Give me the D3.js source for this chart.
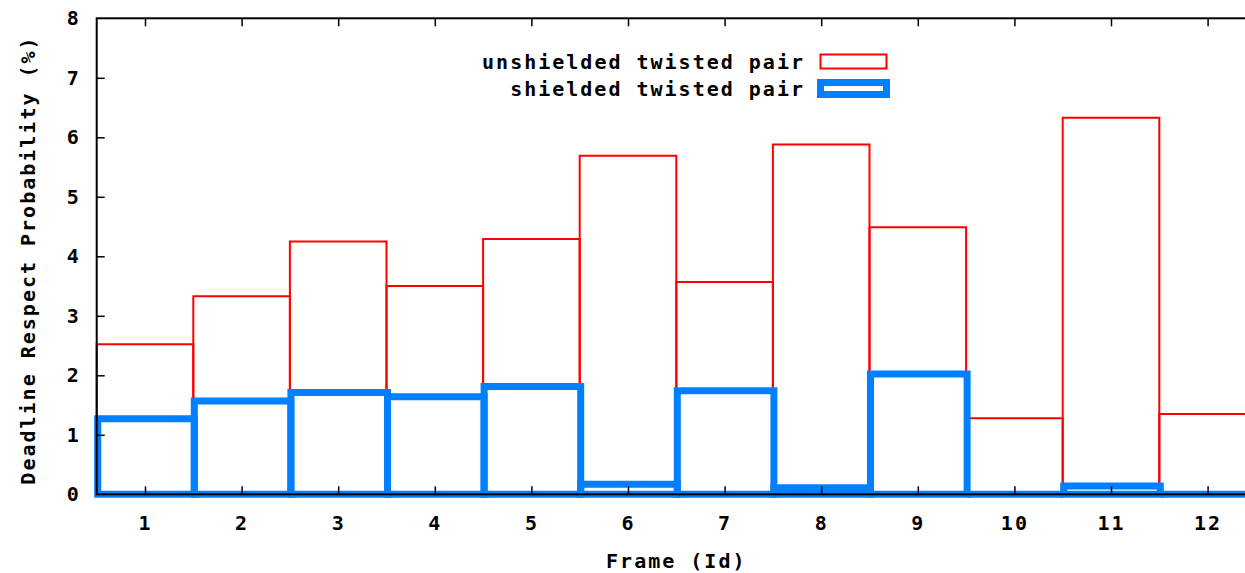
<!DOCTYPE html>
<html><head><meta charset="utf-8">
<script src="https://cdn.jsdelivr.net/npm/d3@7"></script>
<style>
body{margin:0;background:#fff;}
svg{display:block;}
text{font-family:"DejaVu Sans Mono","Liberation Mono",monospace;font-weight:bold;font-size:20px;letter-spacing:2px;fill:#000;}
</style></head>
<body><svg id="c" width="1245" height="573"></svg>
<script>
const frames = [1,2,3,4,5,6,7,8,9,10,11,12];
const unshielded = [2.52,3.33,4.25,3.50,4.29,5.69,3.57,5.88,4.49,1.28,6.33,1.35];
const shielded = [1.27,1.57,1.71,1.64,1.81,0.17,1.74,0.11,2.02,0,0.14,0];
const yTicks = [0,1,2,3,4,5,6,7,8];
const seriesNames = ["unshielded twisted pair","shielded twisted pair"];
const xLabel = "Frame (Id)";
const yLabel = "Deadline Respect Probability (%)";

const svg = d3.select("#c");
const L=96.7, R=1255.9, T=18.3, B=494.3;
const x = d3.scaleLinear().domain([0.5,12.5]).range([L,R]);
const y = d3.scaleLinear().domain([0,8]).range([B,T]);
const red="#ff0000", blue="#0080ff";

function boxPath(d,v,dx){
  const x0=x(d-0.5)+dx, x1=x(d+0.5)+dx, y0=y(0), y1=y(v);
  return `M${x0},${y0}V${y1}H${x1}V${y0}Z`;
}

const gRed = svg.append("g");
gRed.selectAll("path").data(frames).enter().append("path")
  .attr("d",(d,i)=>boxPath(d,unshielded[i],0))
  .attr("fill","none").attr("stroke",red).attr("stroke-width",2);

const gBlue = svg.append("g");
gBlue.selectAll("path").data(frames).enter().append("path")
  .attr("d",(d,i)=>boxPath(d,shielded[i],1))
  .attr("fill","none").attr("stroke",blue).attr("stroke-width",7)
  .attr("stroke-linejoin","miter").attr("stroke-linecap","square");

// axes
const ax = svg.append("g").attr("transform",`translate(0,${B})`)
  .call(d3.axisBottom(x).tickValues(frames).tickSize(-8).tickPadding(21.8).tickFormat(d3.format("d")));
const axT = svg.append("g").attr("transform",`translate(0,${T})`)
  .call(d3.axisTop(x).tickValues(frames).tickSize(-8).tickFormat(""));
const ay = svg.append("g").attr("transform",`translate(${L},0)`)
  .call(d3.axisLeft(y).tickValues(yTicks).tickSize(-8).tickPadding(16).tickFormat(d3.format("d")));
[ax,axT,ay].forEach(g=>{
  g.select(".domain").remove();
  g.selectAll(".tick line").attr("stroke","#000").attr("stroke-width",1.5);
  g.selectAll("text").attr("font-family",null).attr("font-size",null).style("fill","#000");
});
ay.selectAll(".tick").filter(d=>d===0||d===8).select("line").remove();

svg.append("rect").attr("x",L).attr("y",T).attr("width",R-L).attr("height",B-T)
  .attr("fill","none").attr("stroke","#000").attr("stroke-width",2);

// axis titles
svg.append("text").attr("x",(L+R)/2).attr("y",568).attr("text-anchor","middle").text(xLabel);
svg.append("text").attr("transform",`translate(35,260) rotate(-90)`).attr("text-anchor","middle").text(yLabel);

// legend
const lg = svg.append("g");
lg.append("text").attr("x",805).attr("y",69).attr("text-anchor","end").text(seriesNames[0]);
lg.append("text").attr("x",805).attr("y",96).attr("text-anchor","end").text(seriesNames[1]);
lg.append("rect").attr("x",820.5).attr("y",54.5).attr("width",66).attr("height",14)
  .attr("fill","none").attr("stroke",red).attr("stroke-width",2);
lg.append("rect").attr("x",820.5).attr("y",82.5).attr("width",66).attr("height",12)
  .attr("fill","none").attr("stroke",blue).attr("stroke-width",7);
</script></body></html>
